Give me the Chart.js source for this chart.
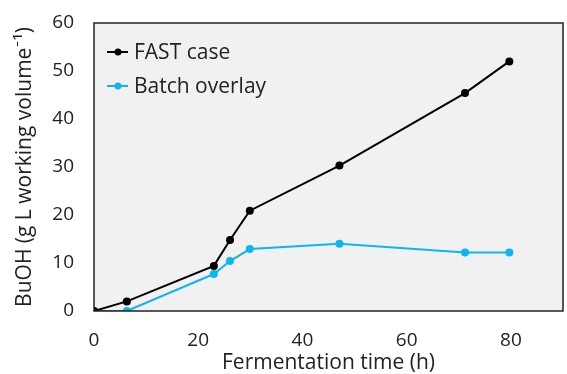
<!DOCTYPE html>
<html>
<head>
<meta charset="utf-8">
<script src="https://cdn.jsdelivr.net/npm/chart.js@4/dist/chart.umd.min.js"></script>
<style>
  html, body { margin: 0; padding: 0; background: #fff; }
  #wrap { width: 567px; height: 374px; }
</style>
</head>
<body>
<div id="wrap"><canvas id="myChart" width="567" height="374"></canvas></div>
<script>
var timeHours = [0, 6.3, 23, 26.1, 29.9, 47.1, 71.2, 79.7];
var fastCase = [0, 2, 9.4, 14.8, 20.9, 30.3, 45.4, 52];
var batchOverlay = [0, 0, 7.7, 10.4, 12.9, 14.0, 12.2, 12.2];
var xTicks = [0, 20, 40, 60, 80];
var yTicks = [0, 10, 20, 30, 40, 50, 60];

var FONT = '"Open Sans", Lato, sans-serif';

function toPoints(xs, ys) {
  var pts = [];
  for (var i = 0; i < xs.length; i++) {
    pts.push({ x: xs[i], y: ys[i] });
  }
  return pts;
}

// grey plot area + black frame
var plotBox = {
  id: 'plotBox',
  beforeDraw: function (chart) {
    var a = chart.chartArea, c = chart.ctx;
    c.save();
    c.fillStyle = '#f1f1f1';
    c.fillRect(a.left, a.top, a.right - a.left, a.bottom - a.top);
    c.restore();
  },
  afterDatasetsDraw: function (chart) {
    var a = chart.chartArea, c = chart.ctx;
    c.save();
    c.strokeStyle = '#222';
    c.lineWidth = 1.5;
    c.strokeRect(a.left, a.top, a.right - a.left, a.bottom - a.top);
    c.restore();
  }
};

// legend drawn inside the plot, top left
var insideLegend = {
  id: 'insideLegend',
  afterDraw: function (chart) {
    var a = chart.chartArea, c = chart.ctx;
    c.save();
    c.font = '21px ' + FONT;
    c.textBaseline = 'middle';
    chart.data.datasets.forEach(function (ds, i) {
      var y = a.top + 29 + i * 34;
      var x0 = a.left + 13;
      c.strokeStyle = ds.borderColor;
      c.lineWidth = 2;
      c.beginPath();
      c.moveTo(x0, y);
      c.lineTo(x0 + 21, y);
      c.stroke();
      c.fillStyle = ds.borderColor;
      c.beginPath();
      c.arc(x0 + 11, y, 3.5, 0, Math.PI * 2);
      c.fill();
      c.fillStyle = '#222';
      c.fillText(ds.label, x0 + 27, y + 1);
    });
    c.restore();
  }
};

var ctx = document.getElementById('myChart');
var myChart = new Chart(ctx, {
  type: 'line',
  data: {
    datasets: [{
      label: 'FAST case',
      data: toPoints(timeHours, fastCase),
      borderColor: '#000000',
      backgroundColor: '#000000',
      borderWidth: 2,
      pointRadius: 4,
      pointBorderWidth: 0,
      tension: 0
    }, {
      label: 'Batch overlay',
      data: toPoints(timeHours, batchOverlay),
      borderColor: '#10b4ef',
      backgroundColor: '#10b4ef',
      borderWidth: 2,
      pointRadius: 4,
      pointBorderWidth: 0,
      tension: 0
    }]
  },
  options: {
    responsive: false,
    animation: false,
    layout: { padding: { top: 23, right: 4, left: 0, bottom: 0 } },
    plugins: {
      legend: { display: false },
      tooltip: { enabled: false }
    },
    scales: {
      x: {
        type: 'linear',
        min: 0,
        max: 90,
        grid: { display: false, drawTicks: false },
        border: { display: false },
        afterBuildTicks: function (axis) {
          axis.ticks = xTicks.map(function (v) { return { value: v }; });
        },
        afterFit: function (axis) {
          axis.height = 63;
          axis.paddingLeft = 0;
          axis.paddingRight = 0;
        },
        ticks: {
          color: '#222',
          font: { family: FONT, size: 19 },
          padding: 18,
          maxRotation: 0
        },
        title: {
          display: true,
          text: 'Fermentation time (h)',
          color: '#222',
          font: { family: FONT, size: 21 },
          padding: { top: 0, bottom: -2 }
        }
      },
      y: {
        min: 0,
        max: 60,
        grid: { display: false, drawTicks: false },
        border: { display: false },
        afterBuildTicks: function (axis) {
          axis.ticks = yTicks.map(function (v) { return { value: v }; });
        },
        afterFit: function (axis) {
          axis.width = 94;
          axis.paddingTop = 0;
          axis.paddingBottom = 0;
        },
        ticks: {
          color: '#222',
          font: { family: FONT, size: 19 },
          padding: 20
        },
        title: {
          display: true,
          text: 'BuOH (g L working volume\u207B\u00B9)',
          color: '#222',
          font: { family: FONT, size: 21 },
          padding: { top: 12, bottom: 4 }
        }
      }
    }
  },
  plugins: [plotBox, insideLegend]
});
</script>
</body>
</html>
